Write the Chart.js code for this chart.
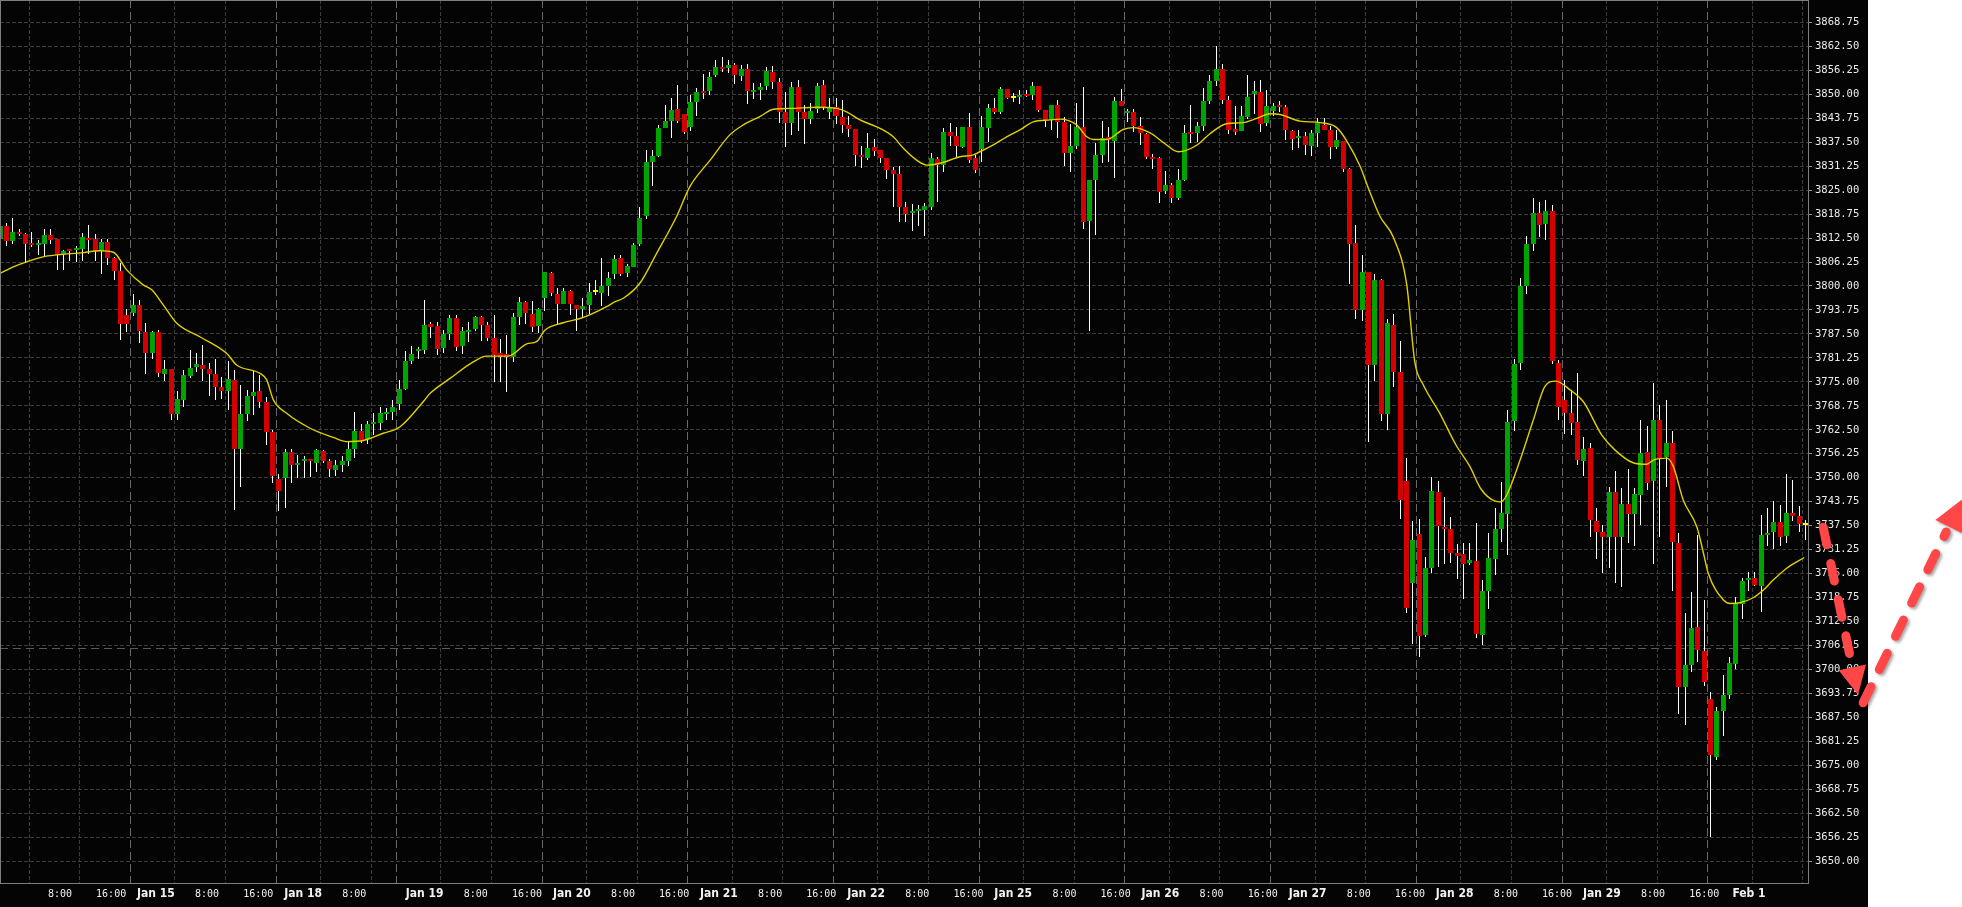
<!DOCTYPE html>
<html>
<head>
<meta charset="utf-8">
<title>ES 60 min</title>
<script src="https://cdn.jsdelivr.net/npm/chart.js@4.4.1/dist/chart.umd.min.js"></script>
<style>
html,body{margin:0;padding:0;background:#fff;}
#wrap{width:1962px;height:907px;}
</style>
</head>
<body>
<div id="wrap"><canvas id="chart" width="1962" height="907"></canvas></div>
<script>
// hourly bars, index 0 = first (half visible) bar at the left edge, 285 = Feb 1 8:00
const opens=[
3812.2,3815.6,3811.8,3814.1,3813.5,3811.0,3810.6,3811.1,3813.3,3812.2,
3808.3,3809.4,3809.3,3809.7,3812.4,3812.2,3809.1,3811.5,3807.4,3803.9,
3792.4,3792.9,3795.0,3788.0,3782.6,3788.0,3777.1,3778.3,3766.7,3770.4,
3776.5,3778.7,3779.4,3778.3,3777.1,3773.7,3772.6,3775.5,3757.6,3766.6,
3771.3,3772.6,3769.8,3762.0,3749.6,3749.9,3756.7,3753.2,3754.3,3754.8,
3753.9,3757.0,3754.4,3752.0,3753.3,3754.4,3757.5,3762.2,3760.1,3764.0,
3764.4,3766.7,3767.2,3769.3,3773.1,3780.4,3783.0,3783.3,3790.1,3789.6,
3783.9,3787.5,3791.7,3784.4,3788.1,3788.8,3792.0,3789.8,3786.5,3782.4,
3782.2,3781.4,3791.9,3795.9,3792.7,3789.6,3796.9,3803.3,3797.8,3795.3,
3798.7,3795.0,3793.9,3794.8,3798.3,3798.3,3800.2,3803.1,3807.4,3803.5,
3805.0,3810.9,3818.1,3832.3,3834.0,3841.2,3843.1,3846.1,3844.8,3841.5,
3848.2,3850.6,3850.7,3854.8,3857.0,3856.7,3857.6,3854.8,3856.5,3850.7,
3851.2,3852.2,3855.9,3853.3,3845.4,3842.6,3852.0,3845.4,3843.5,3846.3,
3852.4,3845.2,3846.6,3844.0,3842.0,3840.9,3834.2,3833.6,3836.3,3835.5,
3833.3,3830.2,3829.2,3820.7,3818.9,3819.6,3819.8,3820.7,3833.1,3831.5,
3840.2,3839.1,3836.3,3841.4,3833.3,3835.6,3841.4,3846.5,3845.4,3851.4,
3849.1,3849.4,3850.1,3849.8,3852.1,3846.0,3843.3,3847.2,3842.8,3834.8,
3836.5,3841.4,3816.8,3827.6,3834.1,3838.8,3837.9,3848.2,3845.1,3845.4,
3841.6,3839.7,3833.7,3833.4,3824.7,3826.4,3822.9,3827.6,3840.0,3839.7,
3841.8,3848.3,3853.5,3856.5,3848.4,3841.0,3840.5,3844.3,3850.0,3850.6,
3842.6,3845.4,3847.1,3846.6,3840.4,3838.5,3839.0,3836.6,3839.9,3842.1,
3840.7,3836.2,3837.8,3830.5,3811.1,3793.7,3803.7,3779.5,3801.6,3766.7,
3789.9,3777.6,3749.2,3722.6,3735.4,3708.9,3726.4,3746.3,3737.1,3736.6,
3730.4,3730.2,3727.6,3728.2,3709.0,3720.5,3728.8,3736.4,3740.7,3764.8,
3779.8,3800.0,3811.0,3819.0,3816.0,3819.5,3779.8,3770.3,3767.0,3764.4,
3754.4,3757.7,3738.7,3735.9,3734.5,3746.3,3734.6,3743.1,3740.5,3745.5,
3756.8,3749.0,3765.0,3755.3,3759.0,3733.1,3695.5,3701.2,3711.2,3704.9,
3692.2,3677.1,3689.0,3693.3,3701.4,3717.1,3723.2,3723.8,3721.9,3735.1,
3735.7,3738.4,3734.6,3740.7,3740.0,3737.7];
const highs=[
3816.5,3816.3,3817.6,3814.8,3813.8,3814.0,3812.0,3814.9,3814.9,3812.3,
3809.3,3809.6,3810.4,3813.9,3815.9,3813.6,3812.2,3812.2,3807.5,3805.9,
3793.9,3797.8,3796.3,3790.4,3788.3,3788.5,3780.7,3778.4,3772.6,3778.1,
3783.3,3782.6,3784.6,3779.8,3780.9,3776.2,3780.4,3778.1,3774.2,3773.0,
3777.8,3776.8,3771.1,3762.4,3750.9,3757.4,3757.6,3755.9,3755.7,3754.9,
3757.6,3757.1,3754.8,3754.6,3755.7,3759.7,3767.1,3764.0,3764.9,3766.8,
3768.5,3768.1,3770.2,3775.5,3783.0,3784.3,3784.2,3796.3,3790.7,3790.6,
3788.5,3792.4,3792.4,3789.4,3790.7,3792.3,3792.3,3790.7,3792.4,3786.2,
3787.2,3792.9,3797.2,3796.2,3796.2,3794.3,3803.7,3803.7,3799.4,3799.4,
3798.9,3795.1,3796.8,3800.7,3801.6,3807.2,3803.6,3808.2,3808.1,3805.7,
3811.1,3820.5,3835.5,3835.5,3842.0,3847.2,3848.9,3852.4,3844.9,3849.8,
3851.5,3855.2,3855.9,3858.8,3859.6,3858.9,3858.1,3857.6,3857.9,3852.8,
3852.8,3857.2,3857.3,3854.3,3850.7,3853.3,3853.7,3847.2,3847.6,3852.8,
3853.7,3848.9,3848.9,3848.5,3844.3,3841.0,3836.5,3839.8,3838.2,3835.5,
3833.3,3831.1,3831.3,3822.0,3821.5,3821.1,3821.7,3834.6,3833.7,3841.2,
3842.4,3841.5,3841.5,3845.0,3834.2,3844.3,3847.4,3848.9,3852.0,3851.4,
3850.4,3851.1,3851.1,3853.3,3852.1,3846.0,3847.2,3848.5,3844.1,3842.2,
3847.8,3851.8,3827.6,3837.2,3843.1,3841.5,3849.4,3851.3,3846.1,3846.1,
3844.0,3839.9,3834.5,3833.6,3830.0,3826.9,3830.5,3842.1,3847.3,3842.8,
3851.5,3855.0,3862.5,3858.0,3849.5,3847.0,3846.8,3855.0,3853.5,3853.8,
3851.0,3847.8,3848.3,3847.3,3840.7,3840.7,3840.2,3840.7,3843.7,3843.7,
3841.6,3840.7,3837.8,3830.7,3816.0,3808.0,3803.7,3803.2,3801.8,3791.4,
3792.8,3785.7,3755.1,3738.7,3739.2,3729.3,3750.1,3749.2,3744.9,3739.7,
3732.6,3733.1,3733.1,3738.3,3723.3,3735.7,3742.0,3749.0,3767.7,3781.0,
3802.0,3813.0,3822.9,3822.0,3822.5,3821.0,3780.7,3775.5,3772.9,3777.2,
3760.5,3759.0,3742.0,3737.7,3747.7,3751.8,3747.2,3752.4,3747.2,3765.0,
3763.5,3774.8,3769.0,3770.3,3762.3,3735.5,3714.6,3720.3,3735.1,3718.1,
3694.2,3690.3,3698.6,3703.3,3718.8,3723.8,3725.3,3725.3,3740.3,3742.0,
3744.0,3742.9,3751.1,3749.4,3742.6,3739.1];
const lows=[
3811.5,3810.2,3810.7,3812.9,3805.9,3810.2,3808.1,3807.5,3811.1,3804.2,
3804.0,3806.5,3806.1,3806.6,3808.3,3806.6,3803.1,3805.5,3801.4,3785.9,
3787.8,3792.0,3785.2,3777.0,3780.9,3776.2,3775.3,3765.0,3765.0,3768.5,
3775.9,3777.6,3775.2,3771.1,3770.3,3770.4,3767.5,3741.6,3747.5,3765.0,
3766.3,3768.1,3758.5,3748.5,3741.2,3742.0,3748.7,3750.0,3750.0,3750.3,
3751.6,3753.7,3750.0,3750.3,3751.6,3753.3,3755.0,3759.0,3759.0,3761.1,
3762.6,3765.0,3765.0,3767.6,3772.9,3779.6,3781.1,3782.3,3786.5,3781.9,
3782.4,3785.9,3783.1,3782.4,3785.5,3788.5,3785.7,3785.7,3775.0,3774.9,
3772.3,3780.0,3789.8,3790.1,3788.0,3787.8,3793.5,3797.4,3790.1,3795.3,
3792.4,3788.3,3791.6,3792.7,3797.6,3794.6,3797.4,3802.0,3802.6,3802.3,
3804.8,3810.4,3817.6,3826.2,3833.7,3841.1,3838.5,3842.4,3839.6,3840.5,
3844.1,3848.7,3850.0,3854.3,3855.6,3855.6,3852.6,3853.5,3847.6,3848.5,
3848.3,3851.1,3851.4,3842.6,3836.3,3839.4,3840.5,3837.0,3842.0,3845.0,
3845.9,3843.5,3842.0,3839.8,3838.9,3831.4,3830.7,3832.8,3833.7,3832.0,
3827.9,3820.7,3816.8,3816.8,3814.4,3815.5,3813.1,3819.8,3822.0,3829.8,
3836.3,3833.7,3835.9,3832.0,3829.5,3832.4,3837.6,3844.6,3845.0,3848.9,
3848.0,3847.4,3849.4,3848.7,3845.4,3841.5,3840.8,3838.5,3831.3,3829.8,
3835.9,3814.9,3788.3,3813.3,3832.1,3832.4,3828.2,3846.8,3842.8,3840.2,
3836.7,3833.1,3830.7,3821.5,3824.1,3821.7,3822.5,3827.4,3837.4,3837.6,
3840.2,3847.5,3852.0,3847.5,3839.7,3839.5,3840.2,3843.5,3845.0,3840.2,
3841.5,3844.5,3845.4,3838.3,3835.5,3835.9,3834.2,3833.9,3836.1,3840.5,
3833.1,3835.7,3829.8,3800.4,3791.4,3790.9,3759.3,3775.2,3764.8,3762.5,
3773.8,3739.2,3714.6,3706.5,3703.2,3708.4,3725.0,3726.9,3727.4,3727.8,
3723.6,3718.4,3727.3,3708.3,3706.4,3715.9,3724.6,3733.3,3729.9,3762.3,
3778.0,3798.0,3809.0,3813.0,3812.0,3779.5,3765.0,3761.4,3761.1,3753.3,
3750.4,3734.6,3728.8,3725.3,3726.6,3722.5,3721.3,3733.1,3732.0,3737.5,
3746.8,3727.5,3734.5,3747.5,3720.5,3688.4,3685.3,3699.4,3702.0,3695.7,
3656.4,3676.4,3682.7,3692.3,3700.0,3713.1,3720.3,3721.6,3715.1,3732.0,
3731.4,3732.3,3733.1,3738.7,3735.7,3733.8];
const closes=[
3815.6,3811.8,3814.1,3813.6,3810.8,3810.6,3811.0,3813.4,3812.1,3808.1,
3809.2,3809.0,3809.6,3812.8,3812.1,3809.1,3811.5,3807.4,3804.0,3790.2,
3790.1,3795.0,3788.1,3782.6,3788.0,3777.4,3778.3,3766.5,3770.5,3776.9,
3778.7,3779.6,3778.3,3777.1,3773.7,3772.6,3775.7,3757.6,3766.6,3771.3,
3772.3,3769.8,3762.0,3750.4,3746.4,3756.7,3753.3,3753.6,3754.8,3754.3,
3757.2,3754.4,3752.3,3753.3,3754.4,3757.5,3762.2,3759.8,3764.0,3764.4,
3766.9,3767.1,3768.4,3773.2,3780.4,3782.3,3783.4,3789.8,3789.4,3783.6,
3787.5,3791.7,3784.2,3788.3,3788.5,3792.0,3789.8,3786.5,3782.0,3781.4,
3781.4,3791.9,3795.9,3793.0,3789.2,3794.0,3803.6,3798.2,3795.3,3798.7,
3795.3,3793.9,3794.8,3798.3,3798.3,3800.0,3802.2,3807.1,3803.3,3805.2,
3810.7,3817.8,3832.3,3833.9,3841.2,3843.1,3845.9,3842.9,3840.2,3848.1,
3850.7,3850.2,3854.4,3857.0,3856.7,3857.6,3855.0,3856.5,3850.8,3851.1,
3851.9,3856.0,3853.3,3845.4,3842.6,3852.0,3845.4,3843.5,3845.6,3852.2,
3846.6,3846.3,3844.2,3842.0,3840.9,3834.2,3833.6,3836.1,3835.3,3833.5,
3830.2,3829.2,3820.7,3818.8,3819.1,3819.8,3820.8,3833.4,3831.5,3840.2,
3839.1,3836.5,3841.4,3832.7,3830.1,3841.4,3846.5,3845.4,3851.4,3849.1,
3849.1,3849.8,3849.6,3852.1,3845.9,3843.3,3847.2,3842.8,3834.8,3836.5,
3841.4,3816.5,3827.6,3834.1,3838.5,3838.1,3848.2,3846.9,3845.5,3841.7,
3839.7,3833.7,3833.1,3824.5,3826.3,3822.9,3827.6,3839.9,3839.6,3841.6,
3848.3,3853.5,3856.5,3848.4,3840.5,3840.2,3844.3,3849.4,3850.8,3842.3,
3847.0,3846.8,3846.6,3840.7,3838.3,3839.1,3836.7,3839.9,3842.4,3840.7,
3836.2,3838.0,3830.5,3811.0,3793.7,3803.7,3779.5,3801.6,3766.7,3790.4,
3777.6,3744.2,3716.0,3733.7,3708.9,3726.4,3746.5,3737.5,3736.6,3730.4,
3729.7,3727.6,3728.5,3709.1,3720.5,3729.0,3736.6,3740.7,3764.6,3779.6,
3800.0,3811.0,3819.0,3816.0,3819.5,3780.5,3768.3,3767.0,3764.4,3754.4,
3757.5,3738.8,3735.9,3734.5,3746.3,3734.6,3743.1,3740.5,3745.8,3756.4,
3748.7,3765.0,3755.1,3759.0,3733.3,3695.5,3701.2,3710.9,3705.3,3696.8,
3677.5,3689.2,3693.3,3701.6,3717.3,3723.1,3723.8,3721.9,3735.1,3735.7,
3738.4,3734.6,3740.7,3739.8,3737.9,3737.7];

// moving average (bar position, price)
const maBars=[0,2.1,4.2,6.8,8.95,13.15,15.8,17.9,20,22.6,23.95,25.8,27.9,31.6,35.8,37.35,41.05,42.1,43.15,45.25,
48.95,52.6,54.7,57.35,60.5,63.15,67.1,67.9,71.05,74.7,76.8,80.25,83.15,84.7,86.05,88.9,92.1,95.75,97.1,98.4,
101,103.65,106.8,108.9,112.1,115.2,117.35,120,122.05,124.7,128.9,132.1,133.65,135.75,138.9,141,142.6,144.7,146.3,148.4,
151.55,153.65,154.7,156.8,158.9,161,163.1,165.75,167.3,169.95,171.55,172.6,174.7,177.3,178.9,181.55,183.65,186,188.9,191,
193.6,196.25,198.4,200.5,202.05,205.2,208.35,211,212.6,214.7,216,217.85,219.95,222.05,223.35,224.65,227.3,229.95,232,233.8,
236,236.9,237.85,239.95,242.05,243.9,245.6,247.85,249.95,252.85,254.95,257.8,259.95,261,263.1,264.15,265.7,267.85,268.9,269.65,
272.05,273.1,274.65,276.75,278.35,279.9,282.05,284.8];
const maValues=[3803.3,3805.0,3806.3,3807.6,3808.1,3808.7,3809.2,3808.8,3804.2,3800.3,3799.0,3795.0,3790.3,3786.7,3782.4,3779.4,3777.2,3775.5,3770.3,3766.8,
3762.9,3760.5,3759.4,3759.7,3761.6,3763.3,3770.4,3772.0,3775.9,3780.2,3781.7,3781.7,3784.9,3785.5,3788.5,3790.4,3791.8,3794.6,3795.9,3796.8,
3800.7,3808.5,3818.1,3825.9,3832.8,3839.4,3842.0,3844.2,3846.1,3846.3,3846.6,3846.3,3845.4,3843.3,3841.1,3838.9,3835.9,3832.8,3831.5,3832.0,
3833.7,3834.2,3835.0,3836.8,3838.9,3840.7,3842.8,3843.3,3843.5,3842.0,3838.9,3838.2,3838.2,3840.8,3841.3,3839.9,3837.4,3835.0,3836.7,3839.7,
3842.3,3842.6,3843.7,3844.9,3844.7,3843.0,3842.6,3841.3,3837.8,3831.2,3825.5,3818.1,3812.7,3800.4,3780.0,3774.3,3766.7,3758.2,3753.0,3747.0,
3743.9,3743.7,3745.5,3754.6,3765.1,3773.9,3775.2,3772.9,3769.8,3761.1,3757.2,3753.9,3753.5,3754.6,3755.1,3752.9,3744.2,3737.2,3730.3,3725.1,
3718.1,3717.2,3717.4,3718.7,3720.7,3723.3,3726.4,3729.2];

const priceTicks=[3650,3656.25,3662.5,3668.75,3675,3681.25,3687.5,3693.75,3700,3706.25,3712.5,3718.75,
3725,3731.25,3737.5,3743.75,3750,3756.25,3762.5,3768.75,3775,3781.25,3787.5,3793.75,3800,3806.25,
3812.5,3818.75,3825,3831.25,3837.5,3843.75,3850,3856.25,3862.5,3868.75];

// bars that open a grid period (0:00, 8:00) and the session breaks (16:00 / holiday close)
const gridBars=[5,13,28,36,51,59,70,78,93,101,116,124,139,147,162,170,185,193,208,216,231,239,254,262,277,285];
const sessionBars=[21,44,63,86,109,132,155,178,201,224,247,270];
const timeBars=[13,21,28,36,44,51,59,70,78,86,93,101,109,116,124,132,139,147,155,162,170,178,185,193,201,208,216,224,231,239,247,254,262,270,277];
const timeLabels=['8:00','16:00','Jan 15','8:00','16:00','Jan 18','8:00','Jan 19','8:00','16:00','Jan 20','8:00','16:00','Jan 21',
'8:00','16:00','Jan 22','8:00','16:00','Jan 25','8:00','16:00','Jan 26','8:00','16:00','Jan 27','8:00','16:00','Jan 28',
'8:00','16:00','Jan 29','8:00','16:00','Feb 1'];

const markerPrice=3705.6;
// hand drawn arrows, in (bar, price)
const arrowDown=[[287.8,3737.1],[293.3,3693.4]];
const arrowUp=[[294.1,3691.3],[309.7,3744.3]];

const GREEN='#00a400', RED='#d40000', DOJI='#ffff00';
const isDay = t => /[A-Za-z]/.test(t);

function drawArrow(ctx, x0, y0, x1, y1, head, half){
  const dx=x1-x0, dy=y1-y0, len=Math.hypot(dx,dy), ux=dx/len, uy=dy/len;
  const bx=x1-ux*head, by=y1-uy*head;
  ctx.save();
  ctx.shadowColor='rgba(0,0,0,0.35)';
  ctx.shadowBlur=3; ctx.shadowOffsetX=2; ctx.shadowOffsetY=2;
  ctx.strokeStyle=ctx.fillStyle='#ff4747';
  ctx.lineWidth=9; ctx.lineCap='round';
  ctx.setLineDash([18,19]);
  ctx.beginPath(); ctx.moveTo(x0,y0); ctx.lineTo(bx-ux*6,by-uy*6); ctx.stroke();
  ctx.setLineDash([]);
  ctx.beginPath();
  ctx.moveTo(x1,y1);
  ctx.lineTo(bx-uy*half,by+ux*half);
  ctx.lineTo(bx+uy*half,by-ux*half);
  ctx.closePath(); ctx.fill();
  ctx.restore();
}

const paint={
  id:'paint',
  beforeDraw(chart){
    const c=chart.ctx, a=chart.chartArea;
    c.save();
    c.fillStyle='#040404';
    c.fillRect(0,0,a.right+60,chart.height);
    c.restore();
  },
  beforeDatasetsDraw(chart){
    const {ctx, chartArea:a, scales:{x,y}}=chart;
    ctx.save();
    ctx.beginPath(); ctx.rect(a.left,a.top,a.right-a.left,a.bottom-a.top); ctx.clip();
    ctx.lineWidth=1;
    const vline=(b,color,dash)=>{
      const px=Math.round(x.getPixelForValue(b-0.5))+0.5;
      ctx.strokeStyle=color; ctx.setLineDash(dash);
      ctx.beginPath(); ctx.moveTo(px,a.top); ctx.lineTo(px,a.bottom); ctx.stroke();
    };
    gridBars.forEach(b=>vline(b,'#3c3c3c',[4,2]));
    sessionBars.forEach(b=>vline(b,'#6a6a6a',[8,4]));
    const my=Math.round(y.getPixelForValue(markerPrice))+0.5;
    ctx.strokeStyle='#5a5a5a'; ctx.setLineDash([8,5]);
    ctx.beginPath(); ctx.moveTo(a.left,my); ctx.lineTo(a.right,my); ctx.stroke();
    ctx.restore();
  },
  // paint the candle bars on whole pixels so wicks stay crisp like the source
  beforeDatasetDraw(chart,args){
    const ds=chart.data.datasets[args.index];
    if(ds.label!=='wick' && ds.label!=='body') return;
    const {ctx, chartArea:a}=chart;
    ctx.save();
    ctx.beginPath(); ctx.rect(a.left,a.top,a.right-a.left,a.bottom-a.top); ctx.clip();
    args.meta.data.forEach(el=>{
      const w=Math.round(el.width);
      const top=Math.round(Math.min(el.y,el.base));
      const h=Math.max(ds.label==='body'?2:1, Math.round(Math.abs(el.base-el.y)));
      ctx.fillStyle=el.options.backgroundColor;
      ctx.fillRect(Math.round(el.x-w/2),top,w,h);
    });
    ctx.restore();
    return false;
  },
  afterDatasetsDraw(chart){
    const {ctx, chartArea:a}=chart;
    ctx.save();
    ctx.strokeStyle='#7d7d7d'; ctx.lineWidth=1;
    ctx.strokeRect(a.left+0.5,a.top+0.5,a.right-a.left,a.bottom-a.top);
    ctx.restore();
  },
  afterDraw(chart){
    const {ctx, scales:{x,y}}=chart;
    const P=p=>[x.getPixelForValue(p[0]), y.getPixelForValue(p[1])];
    const [d0,d1]=[P(arrowDown[0]),P(arrowDown[1])];
    const [u0,u1]=[P(arrowUp[0]),P(arrowUp[1])];
    drawArrow(ctx,d0[0],d0[1],d1[0],d1[1],28,14);
    drawArrow(ctx,u0[0],u0[1],u1[0],u1[1],30,15);
  }
};

const idx=opens.map((_,i)=>i);

new Chart(document.getElementById('chart').getContext('2d'),{
  type:'bar',
  data:{
    datasets:[
      {
        type:'line', label:'MA',
        data:maBars.map((b,i)=>({x:b,y:maValues[i]})),
        borderColor:'#e0d000', borderWidth:1.4, pointRadius:0,
        cubicInterpolationMode:'monotone', order:0
      },
      {
        label:'body',
        data:idx.map(i=>({x:i,y:[opens[i],closes[i]]})),
        backgroundColor:c=>{
          const i=c.dataIndex;
          if(i===undefined) return GREEN;
          return closes[i]>opens[i]?GREEN:(closes[i]<opens[i]?RED:DOJI);
        },
        barThickness:5, minBarLength:2, grouped:false, inflateAmount:0, order:1
      },
      {
        label:'wick',
        data:idx.map(i=>({x:i,y:[lows[i],highs[i]]})),
        backgroundColor:'#ffffff',
        barThickness:1, grouped:false, inflateAmount:0, order:2
      }
    ]
  },
  options:{
    responsive:false,
    animation:false,
    devicePixelRatio:1,
    layout:{padding:0},
    plugins:{legend:{display:false},tooltip:{enabled:false}},
    scales:{
      x:{
        type:'linear', display:false, min:0, max:285.4, offset:false,
        grid:{display:false, offset:false}
      },
      // the time labels on the source drift slightly against the grid
      x2:{
        type:'linear', position:'bottom', min:3.13, max:285.72, offset:false,
        grid:{display:false, drawTicks:false, tickLength:0},
        border:{display:false},
        afterBuildTicks:s=>{ s.ticks=timeBars.map(b=>({value:b-0.5})); },
        afterFit:s=>{ s.height=24; s.paddingLeft=0; s.paddingRight=0; },
        ticks:{
          autoSkip:false, maxRotation:0, minRotation:0, padding:5, color:'#f2f2f2',
          callback:(v,i)=>timeLabels[i],
          font:c=>isDay(timeLabels[c.index]||'')
            ? {family:'"DejaVu Sans Condensed","DejaVu Sans",sans-serif', size:12, weight:'bold', lineHeight:1}
            : {family:'"DejaVu Sans Mono",monospace', size:10, lineHeight:1.2}
        }
      },
      y:{
        type:'linear', position:'right', min:3644.32, max:3874.57,
        afterBuildTicks:s=>{ s.ticks=priceTicks.map(v=>({value:v})); },
        afterFit:s=>{ s.width=154; s.paddingTop=0; s.paddingBottom=0; },
        grid:{color:'#3c3c3c', lineWidth:1, drawTicks:true, tickLength:4, tickColor:'#909090'},
        border:{display:false, dash:[4,2]},
        ticks:{
          padding:3, color:'#ececec',
          font:{family:'"DejaVu Sans Mono",monospace', size:10.5},
          callback:v=>v.toFixed(2)
        }
      }
    }
  },
  plugins:[paint]
});
</script>
</body>
</html>
